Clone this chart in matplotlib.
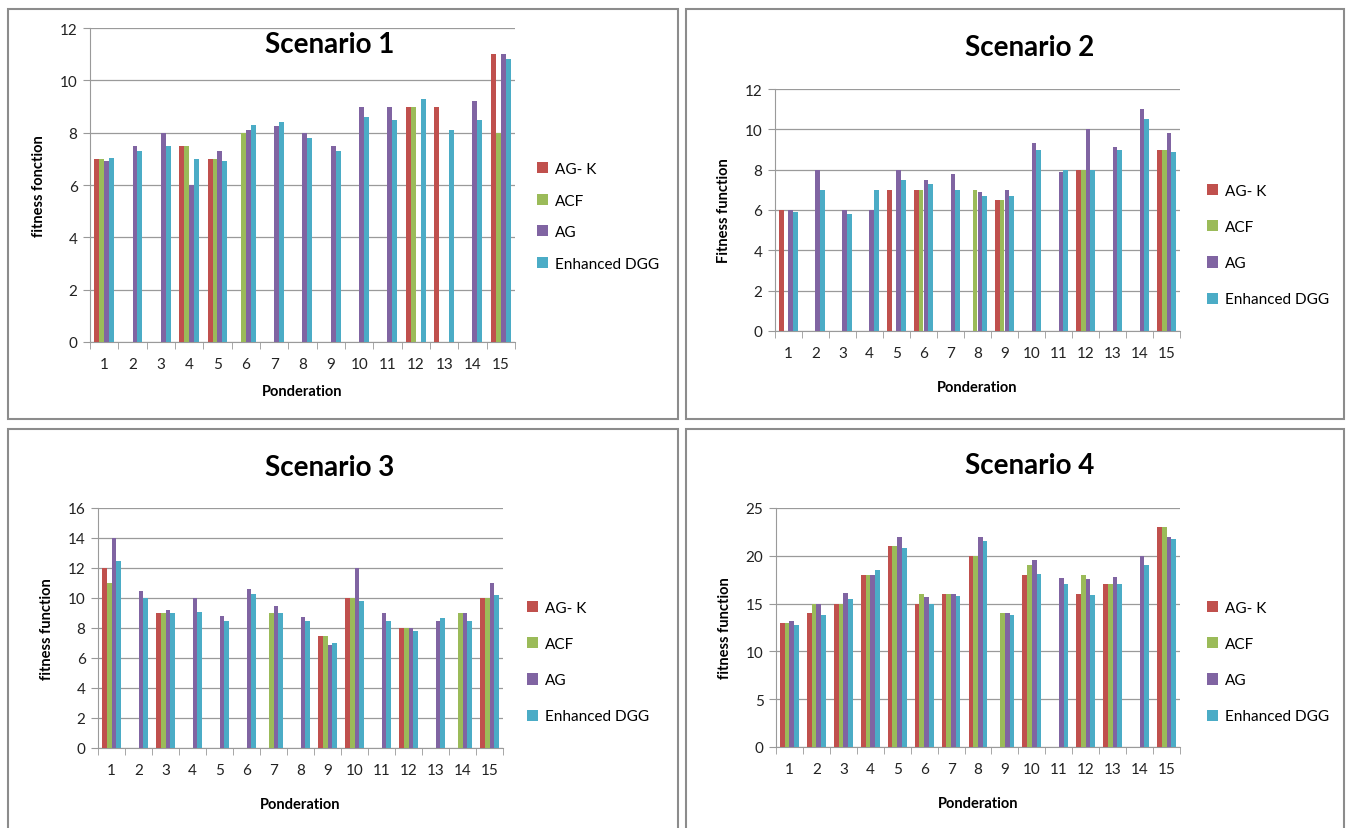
import numpy as np
import matplotlib
matplotlib.use("Agg")
from matplotlib import pyplot as plt
from matplotlib.patches import Rectangle

plt.rcParams['font.family'] = ['Lato', 'DejaVu Sans']

ponderations = list(range(1, 16))
seriesNames = ["AG- K", "ACF", "AG", "Enhanced DGG"]
seriesColors = ["#C0504D", "#9BBB59", "#8064A2", "#4BACC6"]

# scenario 1
s1_agk = [7, 0, 0, 7.5, 7, 0, 0, 0, 0, 0, 0, 9, 9, 0, 11]
s1_acf = [7, 0, 0, 7.5, 7, 8, 0, 0, 0, 0, 0, 9, 0, 0, 8]
s1_ag = [6.9, 7.5, 8, 6, 7.3, 8.1, 8.25, 8, 7.5, 9, 9, 0, 0, 9.2, 11]
s1_dgg = [7.05, 7.3, 7.5, 7, 6.9, 8.3, 8.4, 7.8, 7.3, 8.6, 8.5, 9.3, 8.1, 8.5, 10.8]

# scenario 2
s2_agk = [6, 0, 0, 0, 7, 7, 0, 0, 6.5, 0, 0, 8, 0, 0, 9]
s2_acf = [0, 0, 0, 0, 0, 7, 0, 7, 6.5, 0, 0, 8, 0, 0, 9]
s2_ag = [6, 8, 6, 6, 8, 7.5, 7.8, 6.9, 7, 9.3, 7.9, 10, 9.1, 11, 9.8]
s2_dgg = [5.9, 7, 5.8, 7, 7.5, 7.3, 7, 6.7, 6.7, 9, 8, 8, 9, 10.5, 8.9]

# scenario 3
s3_agk = [12, 0, 9, 0, 0, 0, 0, 0, 7.5, 10, 0, 8, 0, 0, 10]
s3_acf = [11, 0, 9, 0, 0, 0, 9, 0, 7.5, 10, 0, 8, 0, 9, 10]
s3_ag = [14, 10.5, 9.2, 10, 8.8, 10.6, 9.5, 8.75, 6.9, 12, 9, 8, 8.45, 9, 11]
s3_dgg = [12.5, 10, 9, 9.1, 8.5, 10.3, 9, 8.5, 7, 9.8, 8.5, 7.8, 8.7, 8.5, 10.2]

# scenario 4
s4_agk = [13, 14, 15, 18, 21, 15, 16, 20, 0, 18, 0, 16, 17, 0, 23]
s4_acf = [13, 15, 15, 18, 21, 16, 16, 20, 14, 19, 0, 18, 17, 0, 23]
s4_ag = [13.2, 15, 16.1, 18, 22, 15.7, 16, 22, 14, 19.6, 17.7, 17.6, 17.8, 20, 22]
s4_dgg = [12.8, 13.8, 15.5, 18.5, 20.8, 15, 15.8, 21.5, 13.8, 18.1, 17, 15.9, 17, 19, 21.8]

W, H = 1348, 829

def px(x, y):
    return x / W, 1 - y / H

def drawPanel(fig, rect, data, ymax, ystep, title, titlePos, ylabel, legendPos, legendSpacing, xlabelPad):
    left, top, right, bottom = rect
    ax = fig.add_axes([left / W, 1 - bottom / H, (right - left) / W, (bottom - top) / H])
    x = np.array(ponderations)
    bw = 0.175
    for i, vals in enumerate(data):
        ax.bar(x + (i - 1.5) * bw, vals, bw, color=seriesColors[i], label=seriesNames[i], zorder=3)
    ax.set_xlim(0.5, 15.5)
    ax.set_ylim(0, ymax)
    ax.set_yticks(np.arange(0, ymax + 0.1, ystep))
    ax.set_xticks(x)
    ax.set_xticks(np.arange(0.5, 16, 1), minor=True)
    ax.tick_params(axis='x', which='major', length=0, pad=11, labelsize=11, colors='#222222')
    ax.tick_params(axis='x', which='minor', length=5, color='#999999')
    ax.tick_params(axis='y', length=5, color='#999999', labelsize=11, labelcolor='#222222', pad=4)
    ax.grid(axis='y', color='#9a9a9a', linewidth=0.9, zorder=0)
    for s in ['top', 'right']:
        ax.spines[s].set_visible(False)
    for s in ['left', 'bottom']:
        ax.spines[s].set_color('#9a9a9a')
    ax.set_xlabel("Ponderation", fontsize=10.5, fontweight='bold', labelpad=xlabelPad)
    ax.set_ylabel(ylabel, fontsize=10.5, fontweight='bold', labelpad=10)
    tx, ty = px(*titlePos)
    fig.text(tx, ty, title, fontsize=20, fontweight='bold', ha='center', va='center')
    lx, ly = px(*legendPos)
    fig.legend(handles=ax.containers, labels=seriesNames, loc='upper left', bbox_to_anchor=(lx, ly),
               frameon=False, handlelength=0.75, handleheight=0.75, handletextpad=0.4,
               labelspacing=legendSpacing, fontsize=11, borderaxespad=0, borderpad=0)
    return ax

fig = plt.figure(figsize=(13.48, 8.29), dpi=100)

# panel borders
for (x0, y0, x1, y1) in [(8, 10, 678, 420), (686, 10, 1344, 420), (8, 430, 678, 835), (686, 430, 1344, 835)]:
    bx, by = px(x0, y1)
    fig.patches.append(Rectangle((bx, by), (x1 - x0) / W, (y1 - y0) / H, transform=fig.transFigure,
                                 fill=False, edgecolor='#8c8c8c', linewidth=1.5))

drawPanel(fig, (90, 29, 515, 343), [s1_agk, s1_acf, s1_ag, s1_dgg], 12, 2,
          "Scenario 1", (330, 45), "fitness fonction", (537, 163), 1.15, 9)
drawPanel(fig, (775, 90, 1180, 332), [s2_agk, s2_acf, s2_ag, s2_dgg], 12, 2,
          "Scenario 2", (1030, 48), "Fitness function", (1207, 185), 1.45, 14)
drawPanel(fig, (98, 509, 503, 749), [s3_agk, s3_acf, s3_ag, s3_dgg], 16, 2,
          "Scenario 3", (330, 468), "fitness function", (527, 602), 1.45, 14)
drawPanel(fig, (776, 509, 1180, 748), [s4_agk, s4_acf, s4_ag, s4_dgg], 25, 5,
          "Scenario 4", (1030, 466), "fitness function", (1207, 602), 1.45, 14)

fig.savefig("out.png", dpi=100)
